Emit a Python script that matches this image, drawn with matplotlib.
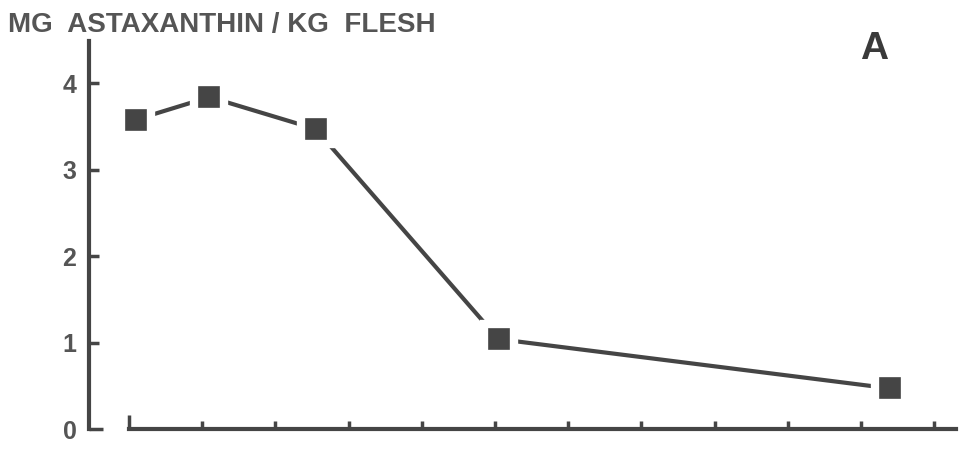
import matplotlib
matplotlib.use("Agg")
import matplotlib.pyplot as plt

# sampling times (tick units) and astaxanthin in flesh
weeks = [0.1, 1.1, 2.55, 5.05, 10.4]
astax = [3.58, 3.84, 3.47, 1.04, 0.47]
yticks = [0, 1, 2, 3, 4]
xticks = list(range(12))

ink = "#454545"
plt.rcParams['font.family'] = ['Liberation Sans', 'DejaVu Sans']

fig = plt.figure(figsize=(9.6, 4.54), dpi=100)
ax = fig.add_axes([0.0927, 0.055, 0.907, 0.855])

# line first, then squares with a white rim so the line stops short of them
ax.plot(weeks, astax, color=ink, lw=3, solid_capstyle='round', zorder=2)
ax.plot(weeks, astax, ls='none', marker='s', ms=22, mfc=ink,
        mec='white', mew=6, zorder=3)

ax.set_xlim(-0.546, 11.35)
ax.set_ylim(0, 4.49)

for s in ['top', 'right']:
    ax.spines[s].set_visible(False)
ax.spines['left'].set_bounds(0, 4.49)
ax.spines['bottom'].set_bounds(0, 11.3)
for s in ['left', 'bottom']:
    ax.spines[s].set_linewidth(3)
    ax.spines[s].set_color(ink)

ax.set_yticks(yticks)
ax.set_yticklabels([str(v) for v in yticks], fontsize=18, fontweight='bold', color="#555555")
ax.set_xticks(xticks)
ax.set_xticklabels([])
ax.tick_params(axis='y', direction='in', length=7, width=2.5, color=ink, pad=9)
ax.tick_params(axis='x', direction='in', length=6, width=2.5, color=ink)
ax.xaxis.get_major_ticks()[0].tick1line.set_markersize(10)
ax.yaxis.get_major_ticks()[0].tick1line.set_markersize(10)

fig.text(0.008, 0.93, "MG  ASTAXANTHIN / KG  FLESH", fontsize=20,
         fontweight='bold', color="#555555", va='baseline', ha='left')
fig.text(0.91, 0.893, "A", fontsize=28, fontweight='bold', color="#3a3a3a",
         ha='center', va='center')

fig.savefig("out.png", dpi=100, facecolor='white')
